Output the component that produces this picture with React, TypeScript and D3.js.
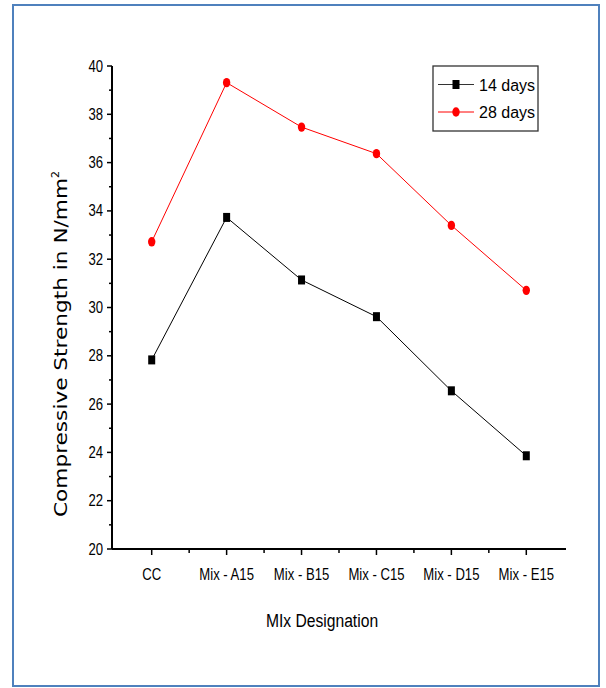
import React from "react";
import * as d3 from "d3";

const categories = ["CC", "Mix - A15", "Mix - B15", "Mix - C15", "Mix - D15", "Mix - E15"];
const days14 = [27.83, 33.73, 31.14, 29.62, 26.55, 23.86];
const days28 = [32.72, 39.31, 37.47, 36.37, 33.4, 30.71];
const yMajorTicks = [20, 22, 24, 26, 28, 30, 32, 34, 36, 38, 40];
const yMinorTicks = [21, 23, 25, 27, 29, 31, 33, 35, 37, 39];
const seriesNames = ["14 days", "28 days"];

const W = 606;
const H = 688;
const left = 112;
const right = 566;
const top = 66;
const bottom = 549;
const FONT = "'Liberation Sans', Arial, sans-serif";
const SX = 0.82;

export default function App() {
  const x = d3.scalePoint<string>().domain(categories).range([left, right]).padding(0.53);
  const y = d3.scaleLinear().domain([20, 40]).range([bottom, top]);
  const step = x.step();
  const line = d3
    .line<number>()
    .x((_, i) => x(categories[i]) as number)
    .y((d) => y(d));

  const minorX = categories.slice(0, -1).map((c) => (x(c) as number) + step / 2);

  return (
    <svg
      width={W}
      height={H}
      style={{ position: "absolute", left: 0, top: 0, background: "#fff" }}
      fontFamily={FONT}
    >
      <rect x={13} y={5} width={586} height={681} fill="#fff" stroke="#4f81bd" strokeWidth={2} />

      {/* y axis */}
      <line x1={left} x2={left} y1={bottom} y2={top} stroke="#000" strokeWidth={2} />
      {yMajorTicks.map((t) => (
        <g key={"ym" + t}>
          <line x1={left - 5} x2={left} y1={y(t)} y2={y(t)} stroke="#000" strokeWidth={1.5} />
          <text
            transform={`translate(${left - 9},${y(t) + 5.5}) scale(${SX},1)`}
            textAnchor="end"
            fontSize={16}
            fill="#000"
          >
            {t}
          </text>
        </g>
      ))}
      {yMinorTicks.map((t) => (
        <line key={"yn" + t} x1={left - 3} x2={left} y1={y(t)} y2={y(t)} stroke="#000" strokeWidth={1.5} />
      ))}

      {/* x axis */}
      <line x1={left} x2={right} y1={bottom} y2={bottom} stroke="#000" strokeWidth={2} />
      {categories.map((c) => (
        <g key={"xm" + c}>
          <line x1={x(c)} x2={x(c)} y1={bottom} y2={bottom + 6} stroke="#000" strokeWidth={1.5} />
          <text
            transform={`translate(${x(c)},${580}) scale(${SX},1)`}
            textAnchor="middle"
            fontSize={16}
            fill="#000"
          >
            {c}
          </text>
        </g>
      ))}
      {minorX.map((mx, i) => (
        <line key={"xn" + i} x1={mx} x2={mx} y1={bottom} y2={bottom + 4} stroke="#000" strokeWidth={1.5} />
      ))}

      {/* axis titles */}
      <text
        transform={`translate(322,627) scale(0.87,1)`}
        textAnchor="middle"
        fontSize={18}
        fill="#000"
      >
        MIx Designation
      </text>
      <g transform="translate(67,517) rotate(-90)">
        <text
          x={0}
          y={0}
          fontSize={17}
          fontFamily="'DejaVu Sans', Verdana, sans-serif"
          fill="#000"
          textLength={339}
          lengthAdjust="spacingAndGlyphs"
        >
          Compressive Strength in N/mm
        </text>
        <text x={339} y={-8} fontSize={11} fontFamily="'DejaVu Sans', Verdana, sans-serif" fill="#000">
          2
        </text>
      </g>

      {/* series lines */}
      <path d={line(days14) ?? ""} fill="none" stroke="#000" strokeWidth={1} />
      <path d={line(days28) ?? ""} fill="none" stroke="#ff0000" strokeWidth={1} />
      {days14.map((v, i) => (
        <rect
          key={"s14" + i}
          x={(x(categories[i]) as number) - 3.5}
          y={y(v) - 4.5}
          width={7}
          height={9}
          fill="#000"
        />
      ))}
      {days28.map((v, i) => (
        <ellipse
          key={"s28" + i}
          cx={x(categories[i]) as number}
          cy={y(v)}
          rx={3.7}
          ry={4.7}
          fill="#ff0000"
        />
      ))}

      {/* legend */}
      <rect x={433} y={66} width={105} height={65} fill="#fff" stroke="#333" strokeWidth={1.3} />
      <line x1={438} x2={474} y1={84.5} y2={84.5} stroke="#333" strokeWidth={1} />
      <rect x={452.5} y={80} width={7} height={9} fill="#000" />
      <text x={479} y={90.5} fontSize={16} fill="#000">
        {seriesNames[0]}
      </text>
      <line x1={438} x2={474} y1={112} y2={112} stroke="#ff0000" strokeWidth={1} />
      <ellipse cx={456} cy={112} rx={3.7} ry={4.7} fill="#ff0000" />
      <text x={479} y={118} fontSize={16} fill="#000">
        {seriesNames[1]}
      </text>
    </svg>
  );
}
